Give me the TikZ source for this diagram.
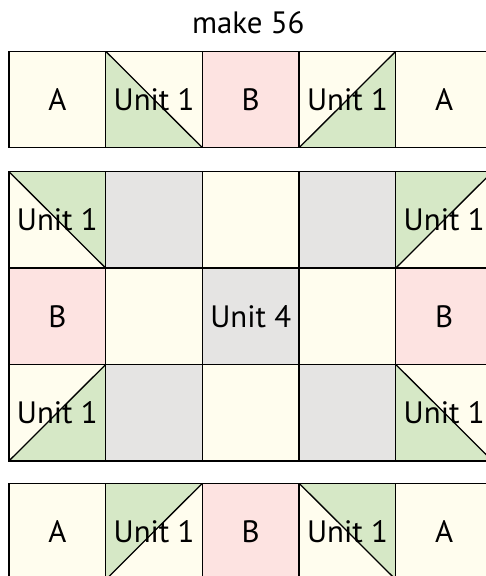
\documentclass[tikz,border=0pt]{standalone}
\usepackage{fontspec}
\setmainfont{PT Sans}
\definecolor{creamc}{HTML}{FFFDEE}
\definecolor{pinkc}{HTML}{FDE3E1}
\definecolor{greenc}{HTML}{D6E8C6}
\definecolor{grayc}{HTML}{E5E4E3}
\tikzset{
  cellbox/.style={draw=black, line width=1.3bp, minimum width=96.7bp, minimum height=96.4bp, inner sep=0pt, anchor=center, font=\fontsize{31}{33}\selectfont},
  cream/.style={cellbox, fill=creamc},
  pink/.style={cellbox, fill=pinkc},
  grey/.style={cellbox, fill=grayc},
  gLL/.style={cream, path picture={
      \fill[greenc] (path picture bounding box.north west) -- (path picture bounding box.south west) -- (path picture bounding box.south east) -- cycle;
      \draw[line width=1.3bp] (path picture bounding box.north west) -- (path picture bounding box.south east);}},
  gUR/.style={cream, path picture={
      \fill[greenc] (path picture bounding box.north west) -- (path picture bounding box.north east) -- (path picture bounding box.south east) -- cycle;
      \draw[line width=1.3bp] (path picture bounding box.north west) -- (path picture bounding box.south east);}},
  gLR/.style={cream, path picture={
      \fill[greenc] (path picture bounding box.south west) -- (path picture bounding box.south east) -- (path picture bounding box.north east) -- cycle;
      \draw[line width=1.3bp] (path picture bounding box.south west) -- (path picture bounding box.north east);}},
  gUL/.style={cream, path picture={
      \fill[greenc] (path picture bounding box.north west) -- (path picture bounding box.north east) -- (path picture bounding box.south west) -- cycle;
      \draw[line width=1.3bp] (path picture bounding box.south west) -- (path picture bounding box.north east);}},
  lbl/.style={font=\fontsize{31}{33}\selectfont, inner sep=0pt, anchor=center}
}
\begin{document}
\begin{tikzpicture}[x=1bp, y=-1bp]
\useasboundingbox (0,0) rectangle (486,576);
\clip (0,0) rectangle (486,576);
\fill[white] (0,0) rectangle (486,576);
\node[lbl] (title) at (248.3,23) {make 56};
% top row
\node[cream] (t0) at (57.35,99.5) {A};
\node[gLL] (t1) at (154.05,99.5) {};
\node[lbl] (t1l) at (t1) {Unit 1};
\node[pink] (t2) at (250.75,99.5) {B};
\node[gLR] (t3) at (347.45,99.5) {};
\node[lbl] (t3l) at (t3) {Unit 1};
\node[cream] (t4) at (444.15,99.5) {A};
% middle block row 0
\node[gUR] (m00) at (57.35,219.9) {};
\node[lbl] (m00l) at (m00) {Unit 1};
\node[grey] (m01) at (154.05,219.9) {};
\node[cream] (m02) at (250.75,219.9) {};
\node[grey] (m03) at (347.45,219.9) {};
\node[gUL] (m04) at (444.15,219.9) {};
\node[lbl] (m04l) at (m04) {Unit 1};
% row 1
\node[pink] (m10) at (57.35,316.3) {B};
\node[cream] (m11) at (154.05,316.3) {};
\node[grey] (m12) at (250.75,316.3) {Unit 4};
\node[cream] (m13) at (347.45,316.3) {};
\node[pink] (m14) at (444.15,316.3) {B};
% row 2
\node[gLR] (m20) at (57.35,412.7) {};
\node[lbl] (m20l) at (m20) {Unit 1};
\node[grey] (m21) at (154.05,412.7) {};
\node[cream] (m22) at (250.75,412.7) {};
\node[grey] (m23) at (347.45,412.7) {};
\node[gLL] (m24) at (444.15,412.7) {};
\node[lbl] (m24l) at (m24) {Unit 1};
% bottom row
\node[cream] (b0) at (57.35,531.5) {A};
\node[gUL] (b1) at (154.05,531.5) {};
\node[lbl] (b1l) at (b1) {Unit 1};
\node[pink] (b2) at (250.75,531.5) {B};
\node[gUR] (b3) at (347.45,531.5) {};
\node[lbl] (b3l) at (b3) {Unit 1};
\node[cream] (b4) at (444.15,531.5) {A};
\end{tikzpicture}
\end{document}
